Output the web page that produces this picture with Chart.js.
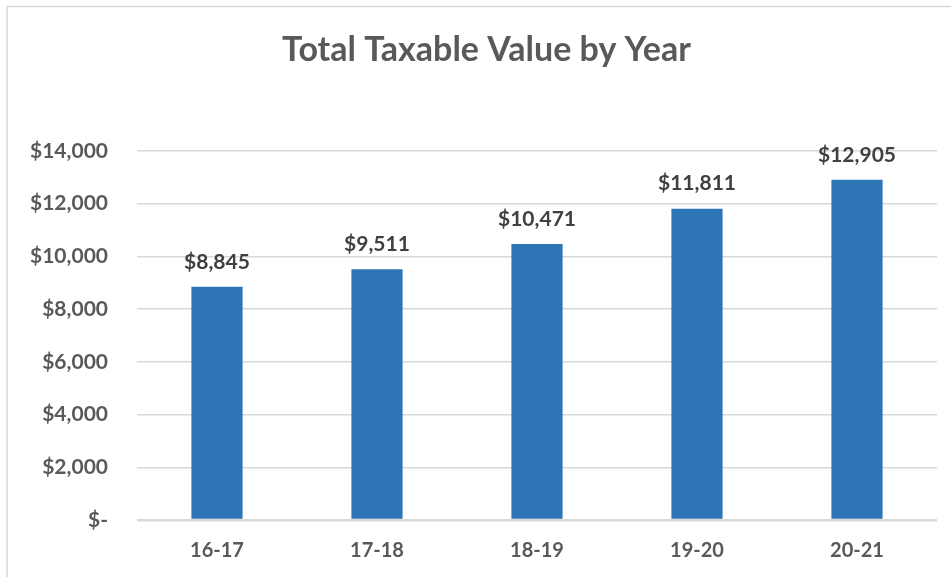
<!DOCTYPE html>
<html>
<head>
<meta charset="utf-8">
<script src="https://cdn.jsdelivr.net/npm/chart.js@4"></script>
<style>
html,body{margin:0;padding:0;background:#fff;overflow:hidden;}
#wrap{position:relative;width:951px;height:577px;}
</style>
</head>
<body>
<div id="wrap"><canvas id="c" width="951" height="577"></canvas></div>
<script>
const categories = ["16-17", "17-18", "18-19", "19-20", "20-21"];
const values = [8845, 9511, 10471, 11811, 12905];
const yTicks = [0, 2000, 4000, 6000, 8000, 10000, 12000, 14000];
const titleText = "Total Taxable Value by Year";

const FONT = "Lato, 'Noto Sans', sans-serif";
function money(v){ return v === 0 ? "$-" : "$" + v.toLocaleString("en-US"); }

const frame = {
  id: "frame",
  beforeDraw(chart){
    const ctx = chart.ctx;
    ctx.save();
    ctx.fillStyle = "#fff";
    ctx.fillRect(0,0,chart.width,chart.height);
    ctx.strokeStyle = "#D9D9D9";
    ctx.lineWidth = 1.5;
    ctx.strokeRect(7, 6.5, chart.width + 20, chart.height + 20);
    ctx.restore();
  },
  afterLayout(chart){
    if (chart.titleBlock) {
      chart.titleBlock.left += 18;
      chart.titleBlock.right += 18;
    }
  }
};

const labels = {
  id: "barLabels",
  afterDatasetsDraw(chart){
    const ctx = chart.ctx;
    const meta = chart.getDatasetMeta(0);
    ctx.save();
    ctx.font = "bold 21px " + FONT;
    ctx.fillStyle = "#404040";
    ctx.textAlign = "center";
    ctx.textBaseline = "middle";
    meta.data.forEach((bar, i) => {
      ctx.fillText(money(values[i]), bar.x, bar.y - 25);
    });
    ctx.restore();
  }
};

new Chart(document.getElementById("c"), {
  type: "bar",
  data: {
    labels: categories,
    datasets: [{
      data: values,
      backgroundColor: "#2E75B6",
      barPercentage: 0.64,
      categoryPercentage: 0.5
    }]
  },
  options: {
    responsive: false,
    animation: false,
    devicePixelRatio: 1,
    layout: { padding: { left: 0, right: 14, top: 0, bottom: 0 } },
    plugins: {
      legend: { display: false },
      tooltip: { enabled: false },
      title: {
        display: true,
        text: titleText,
        color: "#595959",
        font: { family: FONT, size: 34, weight: "bold", lineHeight: 1.2 },
        padding: { top: 30, bottom: 80.2 }
      }
    },
    scales: {
      x: {
        grid: { display: false, drawTicks: false },
        border: { display: false },
        ticks: {
          color: "#595959",
          font: { family: FONT, size: 20, weight: "bold" },
          padding: 19
        },
        afterFit(s){ s.height = 57; }
      },
      y: {
        min: 0, max: 14000,
        afterBuildTicks(s){ s.ticks = yTicks.map(v => ({ value: v })); },
        grid: {
          drawTicks: false,
          color: "#D9D9D9",
          lineWidth: (c) => (c.tick && c.tick.value === 0 ? 2.5 : 1.5)
        },
        border: { display: false },
        ticks: {
          color: "#595959",
          font: { family: FONT, size: 21, weight: "bold" },
          padding: 29,
          callback: (v) => money(v)
        },
        afterFit(s){ s.width = 137; }
      }
    }
  },
  plugins: [frame, labels]
});
</script>
</body>
</html>
